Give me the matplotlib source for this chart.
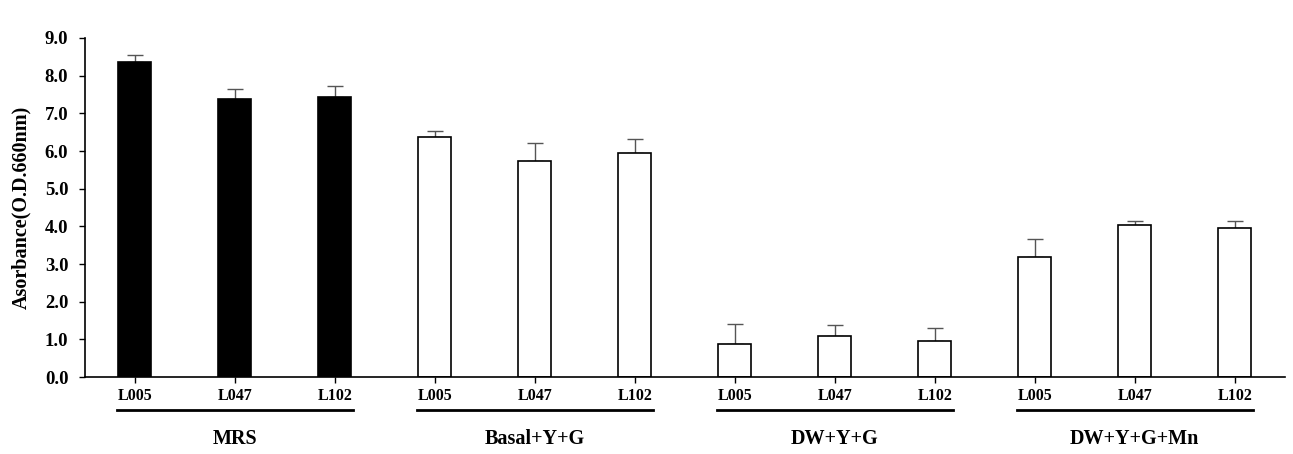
import matplotlib
matplotlib.use("Agg")
import matplotlib.pyplot as plt
import matplotlib.transforms as mtransforms
import numpy as np

groups = ["MRS", "Basal+Y+G", "DW+Y+G", "DW+Y+G+Mn"]
strains = ["L005", "L047", "L102"]
values = [8.36, 7.38, 7.43,
          6.37, 5.73, 5.95,
          0.88, 1.09, 0.96,
          3.19, 4.03, 3.96]
errors = [0.19, 0.27, 0.29,
          0.16, 0.48, 0.37,
          0.53, 0.29, 0.34,
          0.47, 0.11, 0.18]
colors = ["black"] * 3 + ["white"] * 9

plt.rcParams["font.family"] = ["Liberation Serif", "DejaVu Serif"]
plt.rcParams["font.weight"] = "bold"

fig = plt.figure(figsize=(12.93, 4.54), dpi=100)
ax = fig.add_axes([0.0657, 0.1696, 0.928, 0.7467])

x = np.arange(len(values))
ax.bar(x, values, width=0.33, color=colors, edgecolor="black", linewidth=1.2, zorder=2)
ax.errorbar(x, values, yerr=[np.zeros(len(errors)), errors], fmt="none",
            ecolor="#555555", elinewidth=1.0, capsize=6, capthick=1.0, zorder=1)

ax.set_xlim(-0.5, len(values) - 0.5)
ax.set_ylim(0, 9.0)
ax.set_yticks(np.arange(0, 9.5, 1.0))
ax.set_yticklabels([f"{v:.1f}" for v in np.arange(0, 9.5, 1.0)], fontsize=13.5, fontweight="bold")
ax.set_xticks(x)
ax.set_xticklabels(strains * len(groups), fontsize=11.5, fontweight="bold")
ax.tick_params(axis="both", direction="out", length=4, width=1)
ax.tick_params(axis="x", pad=4)
ax.tick_params(axis="y", pad=8)
ax.spines["top"].set_visible(False)
ax.spines["right"].set_visible(False)
ax.spines["left"].set_linewidth(1.2)
ax.spines["bottom"].set_linewidth(1.2)
ax.set_ylabel("Asorbance(O.D.660nm)", fontsize=14.5, fontweight="bold")
ax.yaxis.set_label_coords(-0.045, 0.5)

trans = mtransforms.blended_transform_factory(ax.transData, ax.transAxes)
for i, g in enumerate(groups):
    start = i * 3 - 0.18
    end = i * 3 + 2 + 0.18
    ax.plot([start, end], [-0.097, -0.097], color="black", linewidth=2,
            transform=trans, clip_on=False)
    ax.text(i * 3 + 1, -0.183, g, transform=trans, ha="center", va="center",
            fontsize=14.5, fontweight="bold")

fig.savefig("out.png", dpi=100)
